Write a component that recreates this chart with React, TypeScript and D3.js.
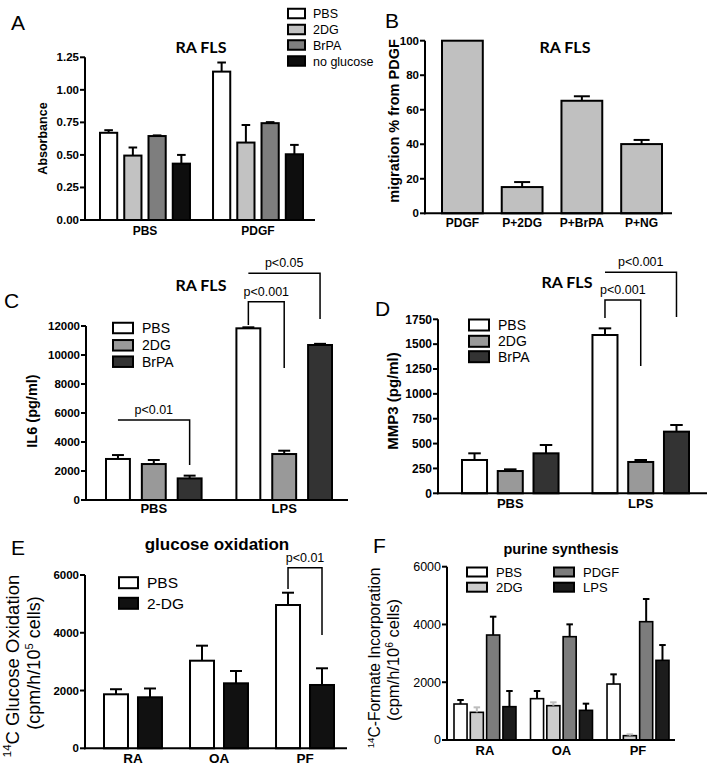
import React from 'react';
import * as d3 from 'd3';

// ---------- Panel A data ----------
const aGroups = ['PBS', 'PDGF'];
const aSeries = ['PBS', '2DG', 'BrPA', 'no glucose'];
const aValues = [[0.67, 0.495, 0.645, 0.433], [1.14, 0.595, 0.744, 0.505]];
const aErrors = [[0.02, 0.062, 0.005, 0.067], [0.07, 0.135, 0.008, 0.072]];
const aTicks = [0, 0.25, 0.5, 0.75, 1.0, 1.25];

// ---------- Panel B data ----------
const bCategories = ['PDGF', 'P+2DG', 'P+BrPA', 'P+NG'];
const bValues = [100, 15.2, 65.2, 40.1];
const bErrors = [0, 2.9, 2.6, 2.4];
const bTicks = [0, 20, 40, 60, 80, 100];

// ---------- Panel C data ----------
const cGroups = ['PBS', 'LPS'];
const cSeries = ['PBS', '2DG', 'BrPA'];
const cValues = [[2830, 2480, 1490], [11840, 3170, 10690]];
const cErrors = [[270, 280, 190], [70, 230, 80]];
const cTicks = [0, 2000, 4000, 6000, 8000, 10000, 12000];
const cBrackets = [
  { g: 0, a: 0, b: 2, y: 5520, l: null, r: 2410, label: 'p<0.01' },
  { g: 1, a: 0, b: 1, y: 13680, l: 12070, r: 9100, label: 'p<0.001' },
  { g: 1, a: 0, b: 2, y: 15630, l: null, r: 12480, label: 'p<0.05' },
];

// ---------- Panel D data ----------
const dGroups = ['PBS', 'LPS'];
const dSeries = ['PBS', '2DG', 'BrPA'];
const dValues = [[335, 224, 402], [1592, 315, 620]];
const dErrors = [[67, 17, 84], [67, 20, 67]];
const dTicks = [0, 250, 500, 750, 1000, 1250, 1500, 1750];
const dBrackets = [
  { g: 1, a: 0, b: 2, y: 2223, l: null, r: 1773, label: 'p<0.001' },
  { g: 1, a: 0, b: 1, y: 1944, l: 1763, r: 1280, label: 'p<0.001' },
];

// ---------- Panel E data ----------
const eGroups = ['RA', 'OA', 'PF'];
const eSeries = ['PBS', '2-DG'];
const eValues = [[1870, 1766], [3033, 2250], [4961, 2192]];
const eErrors = [[175, 305], [520, 427], [426, 578]];
const eTicks = [0, 2000, 4000, 6000];
const eBrackets = [{ g: 2, a: 0, b: 1, y: 6253, l: 5515, r: 3923, label: 'p<0.01' }];

// ---------- Panel F data ----------
const fGroups = ['RA', 'OA', 'PF'];
const fSeries = ['PBS', '2DG', 'PDGF', 'LPS'];
const fValues = [[1246, 958, 3635, 1154], [1431, 1188, 3577, 1027], [1938, 150, 4096, 2758]];
const fErrors = [[139, 173, 634, 542], [265, 116, 427, 231], [335, 46, 785, 530]];
const fTicks = [0, 2000, 4000, 6000];

const FONT = '"Liberation Sans", Arial, Helvetica, sans-serif';
const TITLE_FONT = 'Lato, "Open Sans", sans-serif';

type Part = { t: string; sup?: boolean };
type YLab = { x: number; y: number; size: number; weight: string; parts: Part[] };
type Bracket = { g: number; a: number; b: number; y: number; l: number | null; r: number | null; label: string };
type Legend = { boxX: number[]; cy: number[]; boxW: number; boxH: number; textX: number[]; size: number };

interface Cfg {
  letter: string; letterX: number; letterY: number;
  title: string; titleX: number; titleY: number; titleFont: string; titleSize: number;
  axisX: number; axisRight: number; y0: number; yTop: number; yMax: number;
  ticks: number[]; tickFmt: (v: number) => string; tickSize: number; tickWeight: string;
  groups: string[]; series: string[]; values: number[][]; errors: number[][];
  colors: string[]; errColors?: string[]; barStroke: number;
  groupRange: [number, number]; groupPad: number; barPad: number;
  catY: number; catSize: number;
  yLabels: YLab[];
  legend?: Legend;
  brackets?: Bracket[];
}

function RichText({ parts, size }: { parts: Part[]; size: number }) {
  const shift = size * 0.38;
  const out: React.ReactNode[] = [];
  let prevSup = false;
  parts.forEach((p, i) => {
    let dy = 0;
    if (p.sup && !prevSup) dy = -shift;
    if (!p.sup && prevSup) dy = shift;
    out.push(
      <tspan key={i} dy={dy} fontSize={p.sup ? size * 0.62 : size}>
        {p.t}
      </tspan>
    );
    prevSup = !!p.sup;
  });
  return <>{out}</>;
}

function Panel({ c }: { c: Cfg }) {
  const y = d3.scaleLinear().domain([0, c.yMax]).range([c.y0, c.yTop]);
  const xg = d3.scaleBand<string>().domain(c.groups).range(c.groupRange).paddingInner(c.groupPad).paddingOuter(0);
  const xs = d3
    .scaleBand<number>()
    .domain(c.series.map((_, i) => i))
    .range([0, xg.bandwidth()])
    .paddingInner(c.barPad)
    .paddingOuter(0);
  const bw = xs.bandwidth();
  const cap = Math.min(bw * 0.5, 16);
  const cx = (g: number, s: number) => (xg(c.groups[g]) as number) + (xs(s) as number) + bw / 2;

  return (
    <g fontFamily={FONT}>
      <text x={c.letterX} y={c.letterY} fontSize={21}>{c.letter}</text>
      <text x={c.titleX} y={c.titleY} fontSize={c.titleSize} fontWeight="bold" fontFamily={c.titleFont} textAnchor="middle">
        {c.title}
      </text>
      {c.values.map((row, g) =>
        row.map((v, s) => (
          <rect
            key={`b${g}-${s}`}
            x={cx(g, s) - bw / 2}
            y={y(v)}
            width={bw}
            height={c.y0 - y(v)}
            fill={c.colors[s]}
            stroke="#000"
            strokeWidth={c.barStroke}
          />
        ))
      )}
      {c.values.map((row, g) =>
        row.map((v, s) => {
          const e = c.errors[g][s];
          if (!e) return null;
          const x = cx(g, s);
          const col = c.errColors ? c.errColors[s] : '#000';
          return (
            <g key={`e${g}-${s}`} stroke={col} strokeWidth={2}>
              <line x1={x} x2={x} y1={y(v)} y2={y(v + e)} />
              <line x1={x - cap / 2} x2={x + cap / 2} y1={y(v + e)} y2={y(v + e)} />
            </g>
          );
        })
      )}
      <line x1={c.axisX} x2={c.axisX} y1={c.yTop} y2={c.y0 + 1} stroke="#000" strokeWidth={2} />
      <line x1={c.axisX - 1} x2={c.axisRight} y1={c.y0} y2={c.y0} stroke="#000" strokeWidth={2} />
      {c.ticks.map((t) => (
        <g key={`t${t}`}>
          <line x1={c.axisX - 5} x2={c.axisX} y1={y(t)} y2={y(t)} stroke="#000" strokeWidth={2} />
          <text
            x={c.axisX - 6}
            y={y(t)}
            dy="0.35em"
            textAnchor="end"
            fontSize={c.tickSize}
            fontWeight={c.tickWeight}
          >
            {c.tickFmt(t)}
          </text>
        </g>
      ))}
      {c.groups.map((gname, g) => (
        <text
          key={`c${g}`}
          x={(xg(gname) as number) + xg.bandwidth() / 2}
          y={c.catY}
          textAnchor="middle"
          fontSize={c.catSize}
          fontWeight="bold"
        >
          {gname}
        </text>
      ))}
      {c.yLabels.map((l, i) => (
        <text
          key={`yl${i}`}
          transform={`translate(${l.x},${l.y}) rotate(-90)`}
          dy="0.35em"
          textAnchor="middle"
          fontSize={l.size}
          fontWeight={l.weight}
        >
          <RichText parts={l.parts} size={l.size} />
        </text>
      ))}
      {c.legend &&
        c.series.map((sname, s) => {
          const L = c.legend as Legend;
          return (
            <g key={`lg${s}`}>
              <rect
                x={L.boxX[s]}
                y={L.cy[s] - L.boxH / 2}
                width={L.boxW}
                height={L.boxH}
                fill={c.colors[s]}
                stroke="#000"
                strokeWidth={2}
              />
              <text x={L.textX[s]} y={L.cy[s]} dy="0.36em" fontSize={L.size}>
                {sname}
              </text>
            </g>
          );
        })}
      {(c.brackets || []).map((b, i) => {
        const x1 = cx(b.g, b.a);
        const x2 = cx(b.g, b.b);
        const yy = y(b.y);
        const pts: [number, number][] = [];
        if (b.l !== null) pts.push([x1, y(b.l)]);
        pts.push([x1, yy], [x2, yy]);
        if (b.r !== null) pts.push([x2, y(b.r)]);
        const path = d3.line()(pts) as string;
        return (
          <g key={`br${i}`}>
            <path d={path} fill="none" stroke="#000" strokeWidth={1.5} />
            <text x={(x1 + x2) / 2} y={yy - 6} textAnchor="middle" fontSize={12.5}>
              {b.label}
            </text>
          </g>
        );
      })}
    </g>
  );
}

const fmtInt = d3.format('d');
const fmt2 = d3.format('.2f');

const panels: Cfg[] = [
  {
    letter: 'A', letterX: 11, letterY: 30,
    title: 'RA FLS', titleX: 201, titleY: 53, titleFont: TITLE_FONT, titleSize: 16,
    axisX: 85, axisRight: 315, y0: 220, yTop: 57.3, yMax: 1.25,
    ticks: aTicks, tickFmt: fmt2, tickSize: 11.5, tickWeight: 'bold',
    groups: aGroups, series: aSeries, values: aValues, errors: aErrors,
    colors: ['#ffffff', '#c2c2c2', '#7e7e7e', '#0e0e0e'], barStroke: 2,
    groupRange: [100, 303], groupPad: 0.204, barPad: 0.29,
    catY: 235, catSize: 12,
    yLabels: [{ x: 47, y: 138.5, size: 12.5, weight: 'bold', parts: [{ t: 'Absorbance' }] }],
    legend: { boxX: [288, 288, 288, 288], cy: [13.5, 29.5, 45, 61], boxW: 17, boxH: 9.5, textX: [313, 313, 313, 313], size: 12.5 },
  },
  {
    letter: 'B', letterX: 385, letterY: 28,
    title: 'RA FLS', titleX: 565, titleY: 53, titleFont: TITLE_FONT, titleSize: 16,
    axisX: 425, axisRight: 672, y0: 213.3, yTop: 40.7, yMax: 100,
    ticks: bTicks, tickFmt: fmtInt, tickSize: 11.5, tickWeight: 'bold',
    groups: bCategories, series: ['migration'], values: bValues.map((v) => [v]), errors: bErrors.map((e) => [e]),
    colors: ['#c0c0c0'], barStroke: 2,
    groupRange: [442, 662], groupPad: 0.317, barPad: 0,
    catY: 227, catSize: 12,
    yLabels: [{ x: 399, y: 121, size: 14.5, weight: 'bold', parts: [{ t: 'migration % from PDGF' }] }],
  },
  {
    letter: 'C', letterX: 4, letterY: 308,
    title: 'RA FLS', titleX: 201, titleY: 291, titleFont: TITLE_FONT, titleSize: 16,
    axisX: 86, axisRight: 348, y0: 500, yTop: 326, yMax: 12000,
    ticks: cTicks, tickFmt: fmtInt, tickSize: 11.5, tickWeight: 'bold',
    groups: cGroups, series: cSeries, values: cValues, errors: cErrors,
    colors: ['#ffffff', '#999999', '#333333'], barStroke: 2,
    groupRange: [106, 332], groupPad: 0.267, barPad: 0.333,
    catY: 513, catSize: 13,
    yLabels: [{ x: 37, y: 411, size: 14.5, weight: 'bold', parts: [{ t: 'IL6 (pg/ml)' }] }],
    legend: { boxX: [113, 113, 113], cy: [328, 345.3, 361.7], boxW: 20, boxH: 10.5, textX: [142, 142, 142], size: 14 },
    brackets: cBrackets,
  },
  {
    letter: 'D', letterX: 375, letterY: 316,
    title: 'RA FLS', titleX: 567, titleY: 288, titleFont: TITLE_FONT, titleSize: 16,
    axisX: 438, axisRight: 707, y0: 493.3, yTop: 319.3, yMax: 1750,
    ticks: dTicks, tickFmt: fmtInt, tickSize: 12, tickWeight: 'bold',
    groups: dGroups, series: dSeries, values: dValues, errors: dErrors,
    colors: ['#ffffff', '#999999', '#333333'], barStroke: 2,
    groupRange: [462, 689], groupPad: 0.26, barPad: 0.3,
    catY: 508, catSize: 13,
    yLabels: [{ x: 398, y: 401, size: 15, weight: 'bold', parts: [{ t: 'MMP3 (pg/ml)' }] }],
    legend: { boxX: [469, 469, 469], cy: [325, 341.3, 356.7], boxW: 20, boxH: 11, textX: [498, 498, 498], size: 14 },
    brackets: dBrackets,
  },
  {
    letter: 'E', letterX: 11, letterY: 555,
    title: 'glucose oxidation', titleX: 217, titleY: 550, titleFont: FONT, titleSize: 17,
    axisX: 85, axisRight: 347, y0: 748.3, yTop: 575, yMax: 6000,
    ticks: eTicks, tickFmt: fmtInt, tickSize: 11.5, tickWeight: 'bold',
    groups: eGroups, series: eSeries, values: eValues, errors: eErrors,
    colors: ['#ffffff', '#111111'], barStroke: 2,
    groupRange: [104, 334], groupPad: 0.326, barPad: 0.294,
    catY: 763, catSize: 13.5,
    yLabels: [
      { x: 18.5, y: 666, size: 18.5, weight: 'normal', parts: [{ t: '14', sup: true }, { t: 'C Glucose Oxidation' }] },
      { x: 40, y: 663, size: 18, weight: 'normal', parts: [{ t: '(cpm/h/10' }, { t: '5', sup: true }, { t: ' cells)' }] },
    ],
    legend: { boxX: [119, 119], cy: [582.7, 603.3], boxW: 19, boxH: 11, textX: [147, 147], size: 15.5 },
    brackets: eBrackets,
  },
  {
    letter: 'F', letterX: 373, letterY: 553,
    title: 'purine synthesis', titleX: 561, titleY: 554, titleFont: FONT, titleSize: 14.5,
    axisX: 447, axisRight: 675, y0: 740, yTop: 566.7, yMax: 6000,
    ticks: fTicks, tickFmt: fmtInt, tickSize: 12.5, tickWeight: 'normal',
    groups: fGroups, series: fSeries, values: fValues, errors: fErrors,
    colors: ['#ffffff', '#cccccc', '#7c7c7c', '#1c1c1c'], errColors: ['#000', '#bdbdbd', '#000', '#000'], barStroke: 1.6,
    groupRange: [454, 669], groupPad: 0.19, barPad: 0.2,
    catY: 755, catSize: 13,
    yLabels: [
      { x: 379.5, y: 658, size: 15.6, weight: 'normal', parts: [{ t: '14', sup: true }, { t: 'C-Formate Incorporation' }] },
      { x: 399, y: 660, size: 16.5, weight: 'normal', parts: [{ t: '(cpm/h/10' }, { t: '6', sup: true }, { t: ' cells)' }] },
    ],
    legend: { boxX: [467, 467, 554, 554], cy: [572, 587.2, 572, 587.2], boxW: 20, boxH: 9, textX: [496, 496, 583, 583], size: 13 },
  },
];

export default function App() {
  return (
    <svg
      width={714}
      height={770}
      viewBox="0 0 714 770"
      style={{ position: 'absolute', left: 0, top: 0, background: '#fff' }}
    >
      <rect width={714} height={770} fill="#fff" />
      {panels.map((p, i) => (
        <Panel key={i} c={p} />
      ))}
    </svg>
  );
}
